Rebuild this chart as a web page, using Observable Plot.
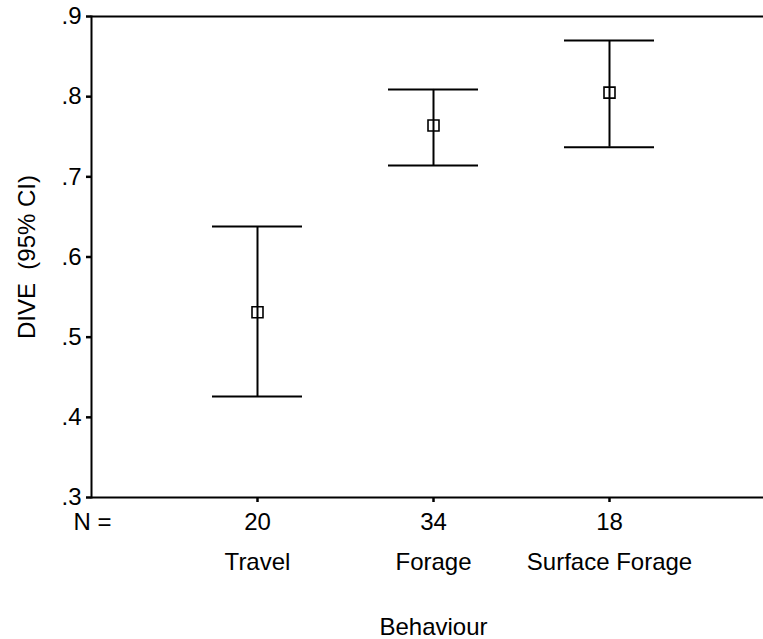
<!DOCTYPE html>
<html>
<head>
<meta charset="utf-8">
<script src="https://cdn.jsdelivr.net/npm/d3@7"></script>
<script src="https://cdn.jsdelivr.net/npm/@observablehq/plot@0.6"></script>
<style>
  html, body { margin: 0; padding: 0; background: #fff; }
  #chart svg { display: block; }
</style>
</head>
<body>
<div id="chart"></div>
<script>
// Mean DIVE with 95% confidence intervals, by behaviour
const behaviours = ["Travel", "Forage", "Surface Forage"];
const counts = [20, 34, 18];
const means = [0.531, 0.764, 0.805];
const lower = [0.426, 0.714, 0.737];
const upper = [0.638, 0.809, 0.870];
const yTicks = [0.3, 0.4, 0.5, 0.6, 0.7, 0.8, 0.9];

const rows = behaviours.map((b, i) => ({
  behaviour: b, n: counts[i], mean: means[i], lo: lower[i], hi: upper[i]
}));
const nByBehaviour = new Map(rows.map(d => [d.behaviour, d.n]));

const font = "'Liberation Sans', Arial, Helvetica, sans-serif";
const fs = 24;
const fmt = d => d.toFixed(1).replace(/^0/, "");

const chart = Plot.plot({
  width: 763,
  height: 639,
  marginLeft: 91,
  marginRight: 0,
  marginTop: 16,
  marginBottom: 142,
  style: { fontFamily: font, fontSize: fs + "px", color: "#000", background: "#fff" },
  x: { type: "band", domain: behaviours, range: [169, 697], padding: 0 },
  y: { domain: [0.3, 0.9] },
  marks: [
    // frame: left axis line plus top and bottom rules across the full width
    Plot.frame({ anchor: "left", strokeWidth: 2 }),
    Plot.ruleY([0.3, 0.9], { strokeWidth: 2 }),
    Plot.axisY(yTicks, {
      tickSize: 5, tickPadding: 5, strokeWidth: 2.5,
      tickFormat: fmt, label: null, fontSize: fs
    }),
    // N counts under the tick marks
    Plot.axisX({
      tickSize: 5, tickPadding: 10, strokeWidth: 2.5,
      tickFormat: d => String(nByBehaviour.get(d)), label: null, fontSize: fs
    }),
    // behaviour names
    Plot.axisX({
      tickSize: 0, tickPadding: 55,
      tickFormat: d => d, label: null, fontSize: fs
    }),
    Plot.text(["N ="], {
      frameAnchor: "bottom-left", textAnchor: "middle", lineAnchor: "top",
      dx: 1, dy: 15, fontSize: fs
    }),
    Plot.text(["Behaviour"], {
      frameAnchor: "bottom", textAnchor: "middle", lineAnchor: "top",
      dx: 6, dy: 120, fontSize: fs
    }),
    Plot.text(["DIVE  (95% CI)"], {
      frameAnchor: "left", rotate: -90, textAnchor: "middle", lineAnchor: "middle",
      dx: -64, fontSize: fs
    }),
    // confidence intervals
    Plot.ruleX(rows, { x: "behaviour", y1: "lo", y2: "hi", strokeWidth: 2 }),
    Plot.tickY(rows, { x: "behaviour", y: "lo", insetLeft: 43, insetRight: 43, strokeWidth: 2 }),
    Plot.tickY(rows, { x: "behaviour", y: "hi", insetLeft: 43, insetRight: 43, strokeWidth: 2 }),
    // means
    Plot.dot(rows, {
      x: "behaviour", y: "mean", symbol: "square", r: 6.2,
      fill: "none", stroke: "#000", strokeWidth: 1.6
    })
  ]
});

document.getElementById("chart").append(chart);
</script>
</body>
</html>
